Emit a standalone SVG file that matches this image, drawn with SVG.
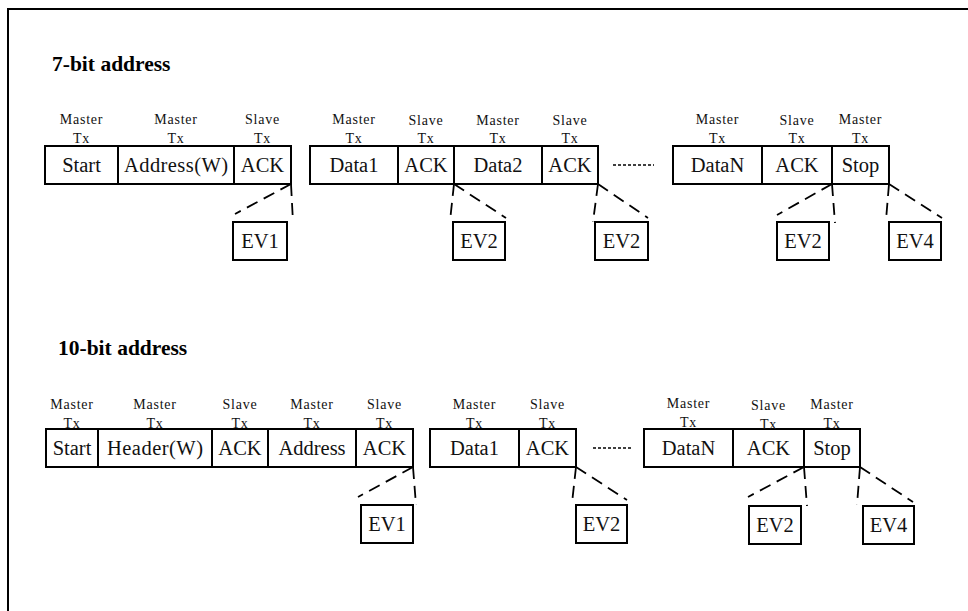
<svg xmlns="http://www.w3.org/2000/svg" width="968" height="611" viewBox="0 0 968 611">
<style>
.frame{stroke:#000;stroke-width:2;fill:none}
.box{fill:#fff;stroke:#000;stroke-width:2}
text{font-family:"Liberation Serif","Times New Roman","DejaVu Serif",serif}
.t{font-size:20.5px;text-anchor:middle;fill:#111}
.l{font-size:14px;text-anchor:middle;fill:#111;letter-spacing:0.8px}
.h{font-size:21.5px;font-weight:bold;fill:#000}
.d{stroke:#000;stroke-width:1.8;stroke-dasharray:12 7;fill:none}
.dots{stroke:#000;stroke-width:1.5;stroke-dasharray:3 2;fill:none}
</style>
<rect width="968" height="611" fill="#fff"/>
<path class="frame" d="M8,611 V9 H968"/>
<text class="h" x="52" y="71">7-bit address</text>
<text class="h" x="58" y="355">10-bit address</text>

<g id="r7">
<g id="r7-start"><rect class="box" x="45" y="146" width="73" height="38"/><text class="t" x="81.5" y="172">Start</text><text class="l" x="81.5" y="124">Master</text><text class="l" x="81.5" y="143">Tx</text></g>
<g id="r7-addr"><rect class="box" x="118" y="146" width="116" height="38"/><text class="t" x="176" y="172" textLength="104" lengthAdjust="spacing">Address(W)</text><text class="l" x="176" y="124">Master</text><text class="l" x="176" y="143">Tx</text></g>
<g id="r7-ack1"><rect class="box" x="234" y="146" width="57" height="38"/><text class="t" x="262.5" y="172">ACK</text><text class="l" x="262.5" y="124">Slave</text><text class="l" x="262.5" y="143">Tx</text></g>
<g id="r7-data1"><rect class="box" x="310" y="146" width="88" height="38"/><text class="t" x="354" y="172">Data1</text><text class="l" x="354" y="124">Master</text><text class="l" x="354" y="143">Tx</text></g>
<g id="r7-ack2"><rect class="box" x="398" y="146" width="56" height="38"/><text class="t" x="426" y="172">ACK</text><text class="l" x="426" y="125">Slave</text><text class="l" x="426" y="143">Tx</text></g>
<g id="r7-data2"><rect class="box" x="454" y="146" width="88" height="38"/><text class="t" x="498" y="172">Data2</text><text class="l" x="498" y="125">Master</text><text class="l" x="498" y="143">Tx</text></g>
<g id="r7-ack3"><rect class="box" x="542" y="146" width="56" height="38"/><text class="t" x="570" y="172">ACK</text><text class="l" x="570" y="125">Slave</text><text class="l" x="570" y="143">Tx</text></g>
<g id="r7-dots"><line class="dots" x1="613" y1="165" x2="654" y2="165"/></g>
<g id="r7-datan"><rect class="box" x="673" y="146" width="89" height="38"/><text class="t" x="717.5" y="172">DataN</text><text class="l" x="717.5" y="124">Master</text><text class="l" x="717.5" y="143">Tx</text></g>
<g id="r7-ack4"><rect class="box" x="762" y="146" width="70" height="38"/><text class="t" x="797" y="172">ACK</text><text class="l" x="797" y="125">Slave</text><text class="l" x="797" y="143">Tx</text></g>
<g id="r7-stop"><rect class="box" x="832" y="146" width="57" height="38"/><text class="t" x="860.5" y="172">Stop</text><text class="l" x="860.5" y="124">Master</text><text class="l" x="860.5" y="143">Tx</text></g>
<g id="r7-ev1"><rect class="box" x="233" y="222" width="54" height="38"/><text class="t" x="260" y="248">EV1</text></g>
<g id="r7-ev2a"><rect class="box" x="453" y="222" width="52" height="38"/><text class="t" x="479" y="248">EV2</text></g>
<g id="r7-ev2b"><rect class="box" x="595" y="222" width="53" height="38"/><text class="t" x="621.5" y="248">EV2</text></g>
<g id="r7-ev2c"><rect class="box" x="777" y="222" width="52" height="38"/><text class="t" x="803" y="248">EV2</text></g>
<g id="r7-ev4"><rect class="box" x="889" y="222" width="52" height="38"/><text class="t" x="915" y="248">EV4</text></g>
</g>

<g id="r10">
<g id="r10-start"><rect class="box" x="46" y="429" width="52" height="38"/><text class="t" x="72" y="455">Start</text><text class="l" x="72" y="409">Master</text><text class="l" x="72" y="428">Tx</text></g>
<g id="r10-hdr"><rect class="box" x="98" y="429" width="114" height="38"/><text class="t" x="155" y="455" textLength="96" lengthAdjust="spacing">Header(W)</text><text class="l" x="155" y="409">Master</text><text class="l" x="155" y="428">Tx</text></g>
<g id="r10-ack1"><rect class="box" x="212" y="429" width="56" height="38"/><text class="t" x="240" y="455">ACK</text><text class="l" x="240" y="409">Slave</text><text class="l" x="240" y="428">Tx</text></g>
<g id="r10-addr"><rect class="box" x="268" y="429" width="88" height="38"/><text class="t" x="312" y="455">Address</text><text class="l" x="312" y="409">Master</text><text class="l" x="312" y="428">Tx</text></g>
<g id="r10-ack2"><rect class="box" x="356" y="429" width="57" height="38"/><text class="t" x="384.5" y="455">ACK</text><text class="l" x="384.5" y="409">Slave</text><text class="l" x="384.5" y="428">Tx</text></g>
<g id="r10-data1"><rect class="box" x="430" y="429" width="89" height="38"/><text class="t" x="474.5" y="455">Data1</text><text class="l" x="474.5" y="409">Master</text><text class="l" x="474.5" y="428">Tx</text></g>
<g id="r10-ack3"><rect class="box" x="519" y="429" width="57" height="38"/><text class="t" x="547.5" y="455">ACK</text><text class="l" x="547.5" y="409">Slave</text><text class="l" x="547.5" y="428">Tx</text></g>
<g id="r10-dots"><line class="dots" x1="593" y1="448" x2="632" y2="448"/></g>
<g id="r10-datan"><rect class="box" x="644" y="429" width="89" height="38"/><text class="t" x="688.5" y="455">DataN</text><text class="l" x="688.5" y="408">Master</text><text class="l" x="688.5" y="427">Tx</text></g>
<g id="r10-ack4"><rect class="box" x="733" y="429" width="71" height="38"/><text class="t" x="768.5" y="455">ACK</text><text class="l" x="768.5" y="410">Slave</text><text class="l" x="768.5" y="429">Tx</text></g>
<g id="r10-stop"><rect class="box" x="804" y="429" width="56" height="38"/><text class="t" x="832" y="455">Stop</text><text class="l" x="832" y="409">Master</text><text class="l" x="832" y="428">Tx</text></g>
<g id="r10-ev1"><rect class="box" x="361" y="505" width="52" height="38"/><text class="t" x="387" y="531">EV1</text></g>
<g id="r10-ev2a"><rect class="box" x="576" y="505" width="51" height="38"/><text class="t" x="601.5" y="531">EV2</text></g>
<g id="r10-ev2b"><rect class="box" x="749" y="506" width="52" height="38"/><text class="t" x="775" y="532">EV2</text></g>
<g id="r10-ev4"><rect class="box" x="863" y="506" width="51" height="38"/><text class="t" x="888.5" y="532">EV4</text></g>
</g>

<g id="connectors">
<line class="d" x1="291" y1="184" x2="235" y2="214"/>
<line class="d" x1="291" y1="184" x2="293" y2="222"/>
<line class="d" x1="454" y1="184" x2="450" y2="221"/>
<line class="d" x1="454" y1="184" x2="506" y2="218"/>
<line class="d" x1="598" y1="184" x2="593" y2="222"/>
<line class="d" x1="598" y1="184" x2="648" y2="218"/>
<line class="d" x1="832" y1="184" x2="777" y2="215"/>
<line class="d" x1="832" y1="184" x2="835" y2="223"/>
<line class="d" x1="889" y1="184" x2="886" y2="220"/>
<line class="d" x1="889" y1="184" x2="942" y2="218"/>
<line class="d" x1="413" y1="467" x2="358" y2="497"/>
<line class="d" x1="413" y1="467" x2="416" y2="505"/>
<line class="d" x1="576" y1="467" x2="572" y2="503"/>
<line class="d" x1="576" y1="467" x2="627" y2="500"/>
<line class="d" x1="804" y1="467" x2="748" y2="497"/>
<line class="d" x1="804" y1="467" x2="807" y2="506"/>
<line class="d" x1="860" y1="467" x2="857" y2="505"/>
<line class="d" x1="860" y1="467" x2="913" y2="502"/>
</g>
</svg>
